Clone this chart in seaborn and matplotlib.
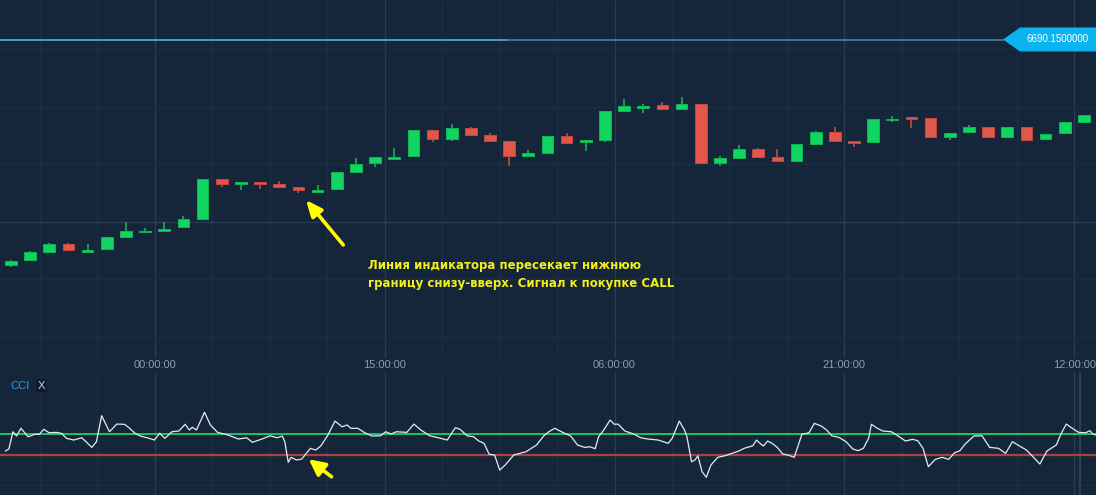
import numpy as np
import matplotlib
matplotlib.use("Agg")
import matplotlib.pyplot as plt
from matplotlib import font_manager
from matplotlib.patches import Polygon
import matplotlib.transforms as mtransforms
import seaborn as sns

# --- data ----------------------------------------------------------------
open_ = [6678.89, 6679.11, 6679.54, 6679.91, 6679.54, 6679.69, 6680.29, 6680.51, 6680.59, 6680.76,
         6681.18, 6683.18, 6682.93, 6683.04, 6682.91, 6682.76, 6682.54, 6682.69, 6683.51, 6683.96,
         6684.19, 6684.34, 6685.63, 6685.16, 6685.71, 6685.39, 6685.09, 6684.34, 6684.46, 6685.33,
         6685.01, 6685.14, 6686.59, 6686.74, 6686.89, 6686.66, 6686.91, 6683.99, 6684.21, 6684.69,
         6684.28, 6684.09, 6684.93, 6685.51, 6685.08, 6685.04, 6686.11, 6686.26, 6686.21, 6685.29,
         6685.51, 6685.76, 6685.29, 6685.76, 6685.16, 6685.46, 6686.04]
high = [6679.13, 6679.58, 6679.98, 6679.99, 6679.93, 6680.28, 6681.03, 6680.73, 6681.03, 6681.34,
        6683.18, 6683.18, 6683.04, 6683.04, 6683.08, 6682.76, 6682.88, 6683.51, 6684.24, 6684.28,
        6684.73, 6685.63, 6685.63, 6685.93, 6685.78, 6685.46, 6685.09, 6684.61, 6685.33, 6685.48,
        6685.14, 6686.58, 6687.18, 6686.91, 6687.03, 6687.28, 6686.91, 6684.33, 6684.88, 6684.74,
        6684.66, 6684.91, 6685.58, 6685.78, 6685.08, 6686.19, 6686.31, 6686.26, 6686.21, 6685.49,
        6685.88, 6685.76, 6685.76, 6685.76, 6685.44, 6686.03, 6686.36]
low = [6678.79, 6679.08, 6679.46, 6679.61, 6679.54, 6679.69, 6680.29, 6680.51, 6680.59, 6680.76,
       6681.18, 6682.79, 6682.63, 6682.68, 6682.78, 6682.49, 6682.54, 6682.69, 6683.51, 6683.79,
       6684.19, 6684.34, 6685.04, 6685.08, 6685.31, 6685.09, 6683.84, 6684.31, 6684.46, 6684.99,
       6684.56, 6685.04, 6686.59, 6686.49, 6686.66, 6686.66, 6683.99, 6683.83, 6684.21, 6684.24,
       6684.09, 6684.09, 6684.93, 6685.04, 6684.79, 6685.04, 6686.04, 6685.71, 6685.24, 6685.13,
       6685.51, 6685.29, 6685.29, 6685.14, 6685.16, 6685.46, 6685.99]
close = [6679.08, 6679.53, 6679.91, 6679.64, 6679.61, 6680.28, 6680.59, 6680.59, 6680.68, 6681.16,
         6683.18, 6682.93, 6683.04, 6682.94, 6682.78, 6682.64, 6682.64, 6683.51, 6683.94, 6684.28,
         6684.28, 6685.63, 6685.16, 6685.71, 6685.39, 6685.09, 6684.34, 6684.46, 6685.33, 6684.99,
         6685.14, 6686.58, 6686.83, 6686.83, 6686.66, 6686.91, 6683.99, 6684.21, 6684.69, 6684.28,
         6684.09, 6684.91, 6685.51, 6685.09, 6684.99, 6686.19, 6686.18, 6686.16, 6685.28, 6685.49,
         6685.76, 6685.29, 6685.76, 6685.14, 6685.44, 6686.03, 6686.36]

current_price = 6690.15
price_label = "6690.1500000"

# time axis: position in candles, labels every 12 candles
time_ticks = [7.5, 19.5, 31.5, 43.5, 55.5]
time_labels = ["00:00:00", "15:00:00", "06:00:00", "21:00:00", "12:00:00"]

# CCI indicator (time in candles, value)
cci_t = [-0.30, -0.11, 0.10, 0.29, 0.52, 0.89, 1.25, 1.48, 1.71, 1.99,
         2.35, 2.63, 2.90, 3.27, 3.69, 3.97, 4.22, 4.46, 4.73, 5.14,
         5.52, 5.92, 6.16, 6.47, 6.75, 7.11, 7.48, 7.76, 8.03, 8.40,
         8.76, 9.09, 9.31, 9.46, 9.68, 10.10, 10.41, 10.78, 11.33, 11.87,
         12.30, 12.60, 13.06, 13.52, 13.89, 14.16, 14.29, 14.47, 14.62, 14.90,
         15.17, 15.63, 15.90, 16.17, 16.54, 16.91, 17.28, 17.55, 17.73, 18.10,
         18.47, 18.83, 19.29, 19.56, 19.84, 20.11, 20.66, 21.03, 21.39, 21.85,
         22.31, 22.77, 23.19, 23.44, 23.81, 24.14, 24.42, 24.69, 24.96, 25.24,
         25.51, 25.79, 26.24, 26.88, 27.43, 27.80, 28.07,
         28.38, 28.84, 29.21, 29.57, 29.94, 30.21, 30.49, 30.67, 30.94, 31.27,
         31.49, 31.68, 32.04, 32.50, 32.87, 33.23, 33.78, 34.30, 34.51, 34.88,
         35.15, 35.28, 35.52, 35.70, 35.85, 36.07, 36.29, 36.53, 36.89, 37.26,
         37.63, 37.99, 38.27, 38.72, 38.91, 39.09, 39.27, 39.49, 39.73, 40.01,
         40.28, 40.55, 40.88, 41.28, 41.65, 41.93, 42.29, 42.57, 42.84, 43.21,
         43.58, 43.94, 44.22, 44.49, 44.76, 44.91, 45.22, 45.50, 45.95, 46.23,
         46.69, 47.05, 47.33, 47.60, 47.88, 48.24, 48.61, 48.94, 49.25, 49.53,
         49.80, 50.26, 50.68, 51.08, 51.54, 51.91, 52.27, 52.64, 53.00, 53.37,
         53.70, 54.07, 54.56, 54.80, 55.08, 55.39, 55.72, 56.09, 56.31, 56.46,
         56.64]
cci_val = [-61, -42, 125, 84, 158, 77, 100, 100, 148, 115,
           119, 110, 61, 45, 67, 19, -26, 29, 280, 125,
           199, 197, 164, 110, 84, 67, 45, 110, 61, 125,
           132, 197, 142, 168, 142, 313, 190, 119, 93, 55,
           67, 23, 52, 86, 67, 84, 29, -170, -122, -148,
           -139, -35, -52, -13, 93, 228, 173, 190, 158, 158,
           115, 84, 86, 125, 103, 125, 119, 199, 142, 86,
           67, 45, 164, 148, 86, 77, 35, 13, -93, -100,
           -245, -197, -100, -68, -3, 84, 125,
           158, 115, 84, -3, -26, -20, -39, 77, 142, 238,
           197, 199, 132, 103, 67, 55, 45, 13, 61, 228,
           142, 77, -165, -148, -107, -261, -315, -197, -122, -107,
           -84, -61, -35, -10, 45, 13, -13, 35, 13, -29,
           -90, -100, -122, 100, 115, 206, 180, 142, 86, 71,
           29, -42, -58, -35, 61, 197, 158, 132, 125, 93,
           35, 52, 38, -35, -213, -142, -122, -142, -78, -58,
           6, 84, 86, -26, -35, -84, 29, -13, -52, -122,
           -187, -61, -3, 103, 199, 158, 119, 115, 135, 103,
           93]
cci_upper = 100
cci_lower = -100

note_text = "Линия индикатора пересекает нижнюю\nграницу снизу-вверх. Сигнал к покупке CALL"

# --- style -----------------------------------------------------------------
BG = "#16263a"
GRID_MAJOR = "#2a3c53"
GRID_MINOR = "#1c2d42"
GREEN, GREEN_EDGE, GREEN_WICK = "#10d560", "#0fb653", "#1a9a50"
RED, RED_EDGE, RED_WICK = "#e2574a", "#c4493e", "#a8473e"
YELLOW = "#ffff00"

sns.set_theme(style="dark", rc={"axes.facecolor": BG, "figure.facecolor": BG,
                                "savefig.facecolor": BG})
installed = {f.name for f in font_manager.fontManager.ttflist}
label_font = "Liberation Sans" if "Liberation Sans" in installed else "DejaVu Sans"
plt.rcParams["font.family"] = [label_font, "DejaVu Sans"]

fig = plt.figure(figsize=(10.96, 4.95), dpi=100)
ax = fig.add_axes([0, 137 / 495, 1, 358 / 495])
ax_cci = fig.add_axes([0, 0, 1, 123 / 495])

x = np.arange(len(open_))
o, h, l, c = map(np.array, (open_, high, low, close))
up = c >= o
xlim = (-0.574, 56.63)

# --- candles ---------------------------------------------------------------
ax.vlines(x, l, h, colors=np.where(up, GREEN_WICK, RED_WICK), linewidth=1.4, zorder=2)
ax.bar(x, np.abs(c - o), bottom=np.minimum(o, c), width=0.61,
       color=np.where(up, GREEN, RED), edgecolor=np.where(up, GREEN_EDGE, RED_EDGE),
       linewidth=0.7, zorder=3)

# current price line (bright on the left, dimmer towards the tag) with tag
ax.axhline(current_price, xmin=0, xmax=508 / 1096, color="#55bff5", linewidth=1.1, zorder=4)
ax.axhline(current_price, xmin=508 / 1096, xmax=1003 / 1096, color="#3d7099",
           linewidth=1.5, zorder=4)
blend = mtransforms.blended_transform_factory(ax.transAxes, ax.transData)
half = 0.6
tag = Polygon([(1003 / 1096, current_price), (1020 / 1096, current_price + half),
               (1.0, current_price + half), (1.0, current_price - half),
               (1020 / 1096, current_price - half)],
              closed=True, facecolor="#0bb4f0", edgecolor="none", transform=blend, zorder=5)
ax.add_patch(tag)
ax.text(1058 / 1096, current_price, price_label, transform=blend, color="white",
        fontsize=7, ha="center", va="center", zorder=6)

# main axis limits and grid
ax.set_xlim(*xlim)
ax.set_ylim(6674.225, 6692.125)
grid_major_y = 6681.05
grid_step = 2.875
ax.set_yticks([grid_major_y])
ax.set_yticks([grid_major_y + k * grid_step for k in (-2, -1, 1, 2, 3)], minor=True)
ax.set_xticks(time_ticks)
ax.set_xticklabels(time_labels)
ax.set_xticks([t for t in np.arange(1.5, 57, 3) if t not in time_ticks], minor=True)
ax.grid(which="major", color=GRID_MAJOR, linewidth=1.0)
ax.grid(which="minor", color=GRID_MINOR, linewidth=1.0)
ax.tick_params(axis="x", which="both", length=0, pad=1.5, labelsize=8, labelcolor="#8a9cb0")
ax.tick_params(axis="y", which="both", length=0, labelleft=False)
for s in ax.spines.values():
    s.set_visible(False)

# annotation
ax.annotate("", xy=(15.40, 6682.12), xytext=(17.34, 6679.88),
            arrowprops=dict(arrowstyle="-|>,head_length=0.8,head_width=0.35",
                            color=YELLOW, lw=2.6, shrinkA=0, shrinkB=0,
                            mutation_scale=12), zorder=6)
ax.text(18.63, 6679.2, note_text, color="#f3ef1e", fontsize=8.5, fontweight="bold",
        family="DejaVu Sans", ha="left", va="top", linespacing=1.55, zorder=6)

# --- CCI panel -------------------------------------------------------------
ax_cci.axhline(cci_upper, color="#1fe06a", linewidth=1.2, zorder=2)
ax_cci.axhline(cci_lower, color="#a5443f", linewidth=1.6, zorder=2)
sns.lineplot(x=cci_t, y=cci_val, ax=ax_cci, color="#e4eaf1", linewidth=0.9,
             sort=False, estimator=None, zorder=3)
ax_cci.axvline(55.8, color="#2d4862", linewidth=1.2, zorder=1)
ax_cci.set_xlim(*xlim)
ax_cci.set_ylim(-486, 702)
ax_cci.set_xticks(time_ticks)
ax_cci.set_xticks([t for t in np.arange(1.5, 57, 3) if t not in time_ticks], minor=True)
ax_cci.set_yticks([])
ax_cci.set_yticks([-390], minor=True)
ax_cci.grid(which="major", axis="x", color=GRID_MAJOR, linewidth=1.0)
ax_cci.grid(which="minor", color=GRID_MINOR, linewidth=1.0)
ax_cci.tick_params(which="both", length=0, labelbottom=False, labelleft=False)
ax_cci.set_xlabel("")
ax_cci.set_ylabel("")
for s in ax_cci.spines.values():
    s.set_visible(False)

ax_cci.annotate("", xy=(15.54, -141), xytext=(16.73, -310),
                arrowprops=dict(arrowstyle="-|>,head_length=0.8,head_width=0.4",
                                color=YELLOW, lw=2.6, shrinkA=0, shrinkB=0,
                                mutation_scale=12), zorder=6)
ax_cci.text(10 / 1096, 0.889, "CCI", transform=ax_cci.transAxes, color="#1ea5e6",
            fontsize=8, ha="left", va="center")
ax_cci.text(41 / 1096, 0.889, "X", transform=ax_cci.transAxes, color="#c9d2dd",
            fontsize=8, ha="center", va="center",
            bbox=dict(boxstyle="square,pad=0.15", facecolor="#0f1b2a", edgecolor="none"))

fig.savefig("out.png", dpi=100, facecolor=BG)
